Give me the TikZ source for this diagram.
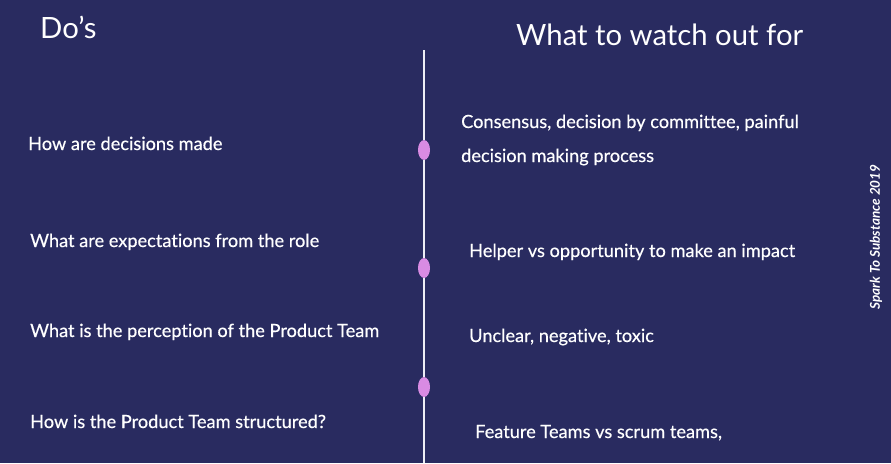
\documentclass[tikz,border=0pt]{standalone}
\usepackage{fontspec}
\setmainfont{Lato}[Ligatures=NoCommon]
\usepackage{xcolor}
\usetikzlibrary{positioning,shapes.geometric}
\definecolor{navy}{HTML}{292B60}
\definecolor{orchid}{HTML}{D98BE3}
\definecolor{rule}{HTML}{EDEDF5}

\begin{document}
\begin{tikzpicture}[x=1pt, y=-1pt, font=\fontsize{18.2}{34}\selectfont\addfontfeatures{FakeBold=0.4}]
\tikzset{
  heading/.style={text=white, inner sep=0pt, anchor=base west, font=\fontsize{29.3}{36}\selectfont},
  item/.style={text=white, inner sep=0pt, anchor=base west, align=left},
  dot/.style={ellipse, fill=orchid, minimum width=12pt, minimum height=20pt, inner sep=0pt},
  spine/.style={draw=rule, line width=2pt},
}

% Background
\fill[navy] (0,0) rectangle (891,463);
\useasboundingbox (0,0) rectangle (891,463);

% Headings
\node (dos) [heading] at (40,38) {Do’s};
\node (watch) [heading] at (516,45) {What to watch out for};

% Left column
\node (q1) [item] at (28,150) {How are decisions made};
\node (q2) [item] at (30,247) {What are expectations from the role};
\node (q3) [item] at (30,337) {What is the perception of the Product Team};
\node (q4) [item] at (30,428) {How is the Product Team structured?};

% Right column
\node (a1) [item] at (461,162) {Consensus, decision by committee, painful\\decision making process};
\node (a2) [item] at (469,257) {Helper vs opportunity to make an impact};
\node (a3) [item] at (469,342) {Unclear, negative, toxic};
\node (a4) [item] at (475,438) {Feature Teams vs scrum teams,};

% Timeline
\coordinate (top) at (424,50);
\coordinate (bottom) at (424,463);
\node (d1) [dot] at (424,150) {};
\node (d2) [dot] at (424,268) {};
\node (d3) [dot] at (424,387) {};
\draw[spine] (top) -- (d1) -- (d2) -- (d3) -- (bottom);

% Side label
\node (tag) [text=white, rotate=90, font=\fontsize{13.5}{15}\selectfont\bfseries\itshape] at (876,237) {Spark To Substance 2019};

\end{tikzpicture}
\end{document}
